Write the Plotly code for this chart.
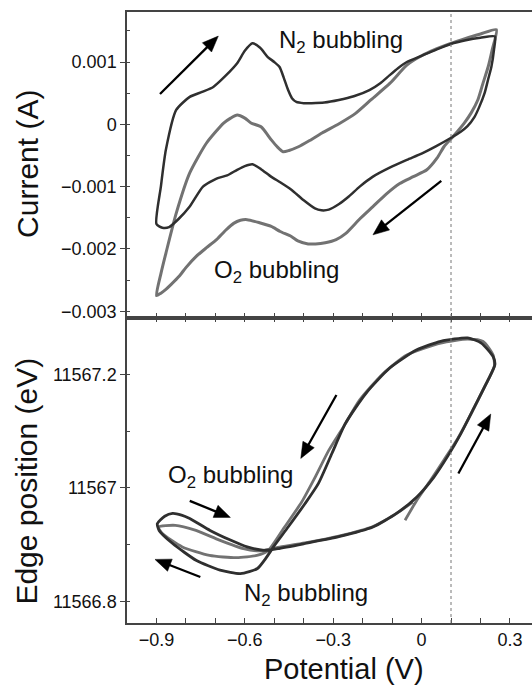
import math
import plotly.graph_objects as go
from plotly.subplots import make_subplots

# ---------------- data ----------------
# Top panel: cyclic voltammograms, potential (V) and current (A)
cv_n2_v = [-0.900, -0.885, -0.868, -0.833, -0.787, -0.745, -0.707, -0.665, -0.626, -0.600,
           -0.574, -0.548, -0.522, -0.500, -0.482, -0.468, -0.453, -0.440, -0.425, -0.400,
           -0.373, -0.330, -0.281, -0.230, -0.177, -0.140, -0.108, -0.080, -0.050, 0.000,
           0.050, 0.099, 0.150, 0.200, 0.249,
           0.246, 0.237, 0.226, 0.214, 0.196, 0.180, 0.156, 0.133, 0.099, 0.050,
           0.000, -0.050, -0.110, -0.165, -0.210, -0.247, -0.280, -0.315, -0.340, -0.362,
           -0.400, -0.442, -0.480, -0.511, -0.545, -0.574, -0.600, -0.626, -0.660, -0.696,
           -0.742, -0.787, -0.825, -0.857, -0.880, -0.900]
cv_n2_i = [-0.00160, -0.00100, -0.00041, 0.00023, 0.00044, 0.00052, 0.00060, 0.00078, 0.00098, 0.00118,
           0.00130, 0.00123, 0.00108, 0.00100, 0.00092, 0.00075, 0.00055, 0.00042, 0.00036, 0.00034,
           0.00034, 0.00035, 0.00039, 0.00045, 0.00055, 0.00066, 0.00079, 0.00090, 0.00100, 0.00110,
           0.00120, 0.00129, 0.00135, 0.00139, 0.00141,
           0.00120, 0.00092, 0.00072, 0.00050, 0.00028, 0.00012, -0.00003, -0.00012, -0.00022, -0.00035,
           -0.00047, -0.00057, -0.00070, -0.00084, -0.00100, -0.00116, -0.00128, -0.00137, -0.00138, -0.00135,
           -0.00122, -0.00105, -0.00093, -0.00084, -0.00072, -0.00064, -0.00067, -0.00073, -0.00082, -0.00087,
           -0.00100, -0.00132, -0.00152, -0.00165, -0.00166, -0.00160]

cv_o2_v = [-0.900, -0.885, -0.868, -0.833, -0.787, -0.730, -0.672, -0.648, -0.626, -0.600,
           -0.579, -0.545, -0.510, -0.490, -0.470, -0.450, -0.418, -0.380, -0.338, -0.280,
           -0.223, -0.170, -0.107, -0.050, 0.000, 0.050, 0.099, 0.150, 0.200, 0.254,
           0.240, 0.226, 0.208, 0.191, 0.168, 0.145, 0.110, 0.076, 0.053, 0.018,
           -0.028, -0.074, -0.120, -0.165, -0.210, -0.257, -0.290, -0.327, -0.360, -0.385,
           -0.420, -0.442, -0.480, -0.510, -0.550, -0.592, -0.615, -0.638, -0.665, -0.696,
           -0.730, -0.765, -0.800, -0.823, -0.850, -0.868, -0.885, -0.900]
cv_o2_i = [-0.00275, -0.00240, -0.00207, -0.00143, -0.00078, -0.00030, 0.00002, 0.00010, 0.00015, 0.00010,
           0.00002, -0.00004, -0.00025, -0.00036, -0.00044, -0.00042, -0.00036, -0.00026, -0.00014, 0.00001,
           0.00018, 0.00040, 0.00066, 0.00095, 0.00110, 0.00121, 0.00130, 0.00138, 0.00145, 0.00152,
           0.00120, 0.00092, 0.00065, 0.00039, 0.00018, 0.00002, -0.00018, -0.00036, -0.00054, -0.00073,
           -0.00084, -0.00095, -0.00112, -0.00132, -0.00152, -0.00175, -0.00185, -0.00190, -0.00192, -0.00192,
           -0.00187, -0.00180, -0.00172, -0.00164, -0.00158, -0.00153, -0.00154, -0.00159, -0.00170, -0.00185,
           -0.00198, -0.00212, -0.00230, -0.00244, -0.00257, -0.00265, -0.00271, -0.00275]

# Bottom panel: edge position (eV) versus potential (V)
edge_n2_v = [-0.897, -0.872, -0.845, -0.815, -0.787, -0.718, -0.649, -0.592, -0.534,
             -0.488, -0.396, -0.281, -0.165, -0.085, -0.016, 0.042, 0.088, 0.134, 0.180,
             0.226, 0.249, 0.243, 0.203, 0.157, 0.065, -0.016, -0.108, -0.188, -0.258,
             -0.304, -0.350, -0.396, -0.453, -0.500, -0.530, -0.557, -0.615, -0.684,
             -0.764, -0.845, -0.891, -0.897]
edge_n2_e = [11566.937, 11566.950, 11566.955, 11566.952, 11566.946, 11566.925, 11566.908, 11566.896, 11566.890,
             11566.893, 11566.902, 11566.914, 11566.931, 11566.955, 11566.984, 11567.019, 11567.055, 11567.096, 11567.143,
             11567.190, 11567.217, 11567.231, 11567.255, 11567.264, 11567.258, 11567.243, 11567.211, 11567.167, 11567.114,
             11567.061, 11567.008, 11566.972, 11566.931, 11566.898, 11566.875, 11566.858, 11566.849, 11566.855,
             11566.872, 11566.902, 11566.925, 11566.937]

edge_o2_v = [-0.056, -0.016, 0.030, 0.076, 0.123, 0.169, 0.215, 0.247, 0.243, 0.209,
             0.157, 0.065, -0.050, -0.131, -0.211, -0.262, -0.315, -0.361, -0.407, -0.465,
             -0.522, -0.559, -0.628, -0.720, -0.812, -0.881, -0.893, -0.836, -0.766, -0.686,
             -0.605, -0.547, -0.488, -0.396, -0.281, -0.165, -0.085, -0.030]
edge_o2_e = [11566.943, 11566.978, 11567.013, 11567.049, 11567.087, 11567.131, 11567.179, 11567.214, 11567.234, 11567.258,
             11567.262, 11567.255, 11567.234, 11567.201, 11567.154, 11567.110, 11567.066, 11567.019, 11566.975, 11566.931,
             11566.889, 11566.881, 11566.877, 11566.881, 11566.896, 11566.920, 11566.931, 11566.934, 11566.925, 11566.908,
             11566.893, 11566.889, 11566.895, 11566.903, 11566.915, 11566.932, 11566.955, 11566.975]

cv_ticks = [0.001, 0.0, -0.001, -0.002, -0.003]
cv_ticktext = ["0.001", "0", "\u22120.001", "\u22120.002", "\u22120.003"]
edge_ticks = [11567.2, 11567.0, 11566.8]
edge_ticktext = ["11567.2", "11567", "11566.8"]
pot_ticks = [-0.9, -0.6, -0.3, 0.0, 0.3]
pot_ticktext = ["\u22120.9", "\u22120.6", "\u22120.3", "0", "0.3"]
marker_potential = 0.1

# ---------------- figure ----------------
FONT = "Liberation Sans, Arial, Helvetica, sans-serif"
DARK = "#2f2f2f"
GRAY = "#727272"
AXC = "#444444"

W, H = 532, 687
ML, MR, MT, MB = 127, 0, 12, 63.5
xr = [-1.0, 0.375]
yr_cv = [-0.003101, 0.001803]
yr_edge = [11566.762, 11567.300]
plot_w = W - ML - MR
panel_h = (H - MT - MB) / 2.0
sx = plot_w / (xr[1] - xr[0])                  # px per V
sy_cv = panel_h / (yr_cv[1] - yr_cv[0])        # px per A
sy_edge = panel_h / (yr_edge[1] - yr_edge[0])  # px per eV

fig = make_subplots(rows=2, cols=1, shared_xaxes=False, vertical_spacing=0.0)

fig.add_trace(go.Scatter(x=cv_o2_v, y=cv_o2_i, mode="lines",
                         line=dict(color=GRAY, width=3, shape="spline", smoothing=0.6),
                         showlegend=False), row=1, col=1)
fig.add_trace(go.Scatter(x=cv_n2_v, y=cv_n2_i, mode="lines",
                         line=dict(color=DARK, width=2.5, shape="spline", smoothing=0.6),
                         showlegend=False), row=1, col=1)
fig.add_trace(go.Scatter(x=edge_o2_v, y=edge_o2_e, mode="lines",
                         line=dict(color=GRAY, width=2.8, shape="spline", smoothing=0.6),
                         showlegend=False), row=2, col=1)
fig.add_trace(go.Scatter(x=edge_n2_v, y=edge_n2_e, mode="lines",
                         line=dict(color=DARK, width=2.8, shape="spline", smoothing=0.6),
                         showlegend=False), row=2, col=1)

common_x = dict(range=xr, showgrid=False, zeroline=False, showline=True, linecolor=AXC,
                linewidth=1.5, ticks="inside", ticklen=5, tickwidth=1.2, tickcolor=AXC,
                tickmode="array", tickvals=pot_ticks,
                minor=dict(ticks="inside", ticklen=5, tickwidth=1.2, tickcolor=AXC,
                           dtick=0.1, tick0=-1.0))
fig.update_xaxes(**common_x, row=1, col=1)
fig.update_xaxes(showticklabels=False, mirror=True, row=1, col=1)
fig.update_xaxes(**common_x, row=2, col=1)
fig.update_xaxes(ticktext=pot_ticktext, mirror="ticks",
                 tickfont=dict(family=FONT, size=18, color="#111111"), row=2, col=1)

common_y = dict(showgrid=False, zeroline=False, showline=True, linecolor=AXC, linewidth=1.5,
                ticks="outside", ticklen=5, tickwidth=1.2, tickcolor=AXC,
                tickfont=dict(family=FONT, size=18, color="#111111"))
fig.update_yaxes(**common_y, range=yr_cv, tickmode="array",
                 tickvals=cv_ticks, ticktext=cv_ticktext,
                 minor=dict(ticks="inside", ticklen=3, tickwidth=1.2, tickcolor=AXC,
                            dtick=0.0005, tick0=0.0), row=1, col=1)
fig.update_yaxes(**common_y, range=yr_edge, tickmode="array",
                 tickvals=edge_ticks, ticktext=edge_ticktext,
                 minor=dict(ticks="inside", ticklen=3, tickwidth=1.2, tickcolor=AXC,
                            dtick=0.1, tick0=11567.0), row=2, col=1)

# dotted vertical marker through both panels
fig.add_shape(type="line", xref="x", yref="paper", x0=marker_potential, x1=marker_potential,
              y0=0, y1=1, line=dict(color="#777777", width=1, dash="dot"))

# arrows drawn as shapes: shaft in data coordinates, head as a pixel-sized triangle
HL, HW = 16.0, 6.5
def arrow(xref, yref, sy, tail, head):
    dx = (head[0] - tail[0]) * sx
    dy = (head[1] - tail[1]) * sy
    L = math.hypot(dx, dy)
    ux, uy = dx / L, dy / L
    back = HL * 0.8
    fig.add_shape(type="line", xref=xref, yref=yref,
                  x0=tail[0], y0=tail[1],
                  x1=head[0] - ux * back / sx, y1=head[1] - uy * back / sy,
                  line=dict(color="#000000", width=2.3))
    p1 = (-ux * HL - uy * HW, -uy * HL + ux * HW)
    p2 = (-ux * HL + uy * HW, -uy * HL - ux * HW)
    path = "M0,0 L{:.2f},{:.2f} L{:.2f},{:.2f} Z".format(p1[0], p1[1], p2[0], p2[1])
    fig.add_shape(type="path", xref=xref, yref=yref, xsizemode="pixel", ysizemode="pixel",
                  xanchor=head[0], yanchor=head[1], path=path,
                  fillcolor="#000000", line=dict(color="#000000", width=0.5))

arrow("x", "y", sy_cv, (-0.888, 0.000486), (-0.690, 0.001416))
arrow("x", "y", sy_cv, (0.067, -0.000909), (-0.165, -0.001774))
arrow("x2", "y2", sy_edge, (-0.289, 11567.1636), (-0.410, 11567.0518))
arrow("x2", "y2", sy_edge, (0.125, 11567.0253), (0.235, 11567.130))
arrow("x2", "y2", sy_edge, (-0.787, 11566.977), (-0.649, 11566.948))
arrow("x2", "y2", sy_edge, (-0.751, 11566.843), (-0.905, 11566.874))

annots = []
def label(xref, yref, x, y, text):
    annots.append(dict(xref=xref, yref=yref, x=x, y=y, text=text, showarrow=False,
                       xanchor="center", yanchor="middle",
                       font=dict(family=FONT, size=24, color="#111111")))

label("x", "y", -0.272, 0.00133, "N<sub>2</sub> bubbling")
label("x", "y", -0.493, -0.00236, "O<sub>2</sub> bubbling")
label("x2", "y2", -0.649, 11567.020, "O<sub>2</sub> bubbling")
label("x2", "y2", -0.393, 11566.813, "N<sub>2</sub> bubbling")

def title(x, y, text, angle=0, size=30):
    annots.append(dict(xref="paper", yref="paper", x=x, y=y, text=text, showarrow=False,
                       xanchor="center", yanchor="middle", textangle=angle,
                       font=dict(family=FONT, size=size, color="#111111")))

title(-0.2444, 0.7514, "Current (A)", -90)
title(-0.2469, 0.2314, "Edge position (eV)", -90)
title(0.5358, -0.0745, "Potential (V)", 0, 29)

fig.update_layout(width=W, height=H, margin=dict(l=ML, r=MR, t=MT, b=MB),
                  paper_bgcolor="white", plot_bgcolor="white", annotations=annots,
                  showlegend=False)

fig.write_html("out.html")
